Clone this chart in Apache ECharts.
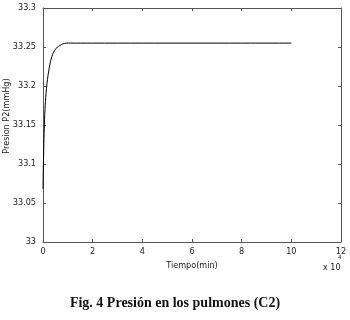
<!DOCTYPE html>
<html>
<head>
<meta charset="utf-8">
<script src="https://cdn.jsdelivr.net/npm/echarts@6/dist/echarts.min.js"></script>
<style>
  html, body { margin: 0; padding: 0; background: #fff; }
  #chart { width: 350px; height: 320px; }
</style>
</head>
<body>
<div id="chart"></div>
<script>
// tiempo en unidades de 10^4 min
const tiempo = [0, 0.01, 0.03, 0.05, 0.08, 0.12, 0.16, 0.2, 0.25, 0.3, 0.36, 0.42, 0.5, 0.58, 0.68, 0.8, 0.95, 1.1, 1.5, 2, 4, 6, 8, 10];
const presion = [33.068, 33.09, 33.12, 33.145, 33.17, 33.19, 33.203, 33.213, 33.223, 33.231, 33.238, 33.243, 33.247, 33.25, 33.252, 33.254, 33.255, 33.255, 33.255, 33.255, 33.255, 33.255, 33.255, 33.255];

~function () {
  let myChart = echarts.init(document.getElementById('chart'));
  let font = "'Liberation Sans Narrow', 'DejaVu Sans Condensed', 'Liberation Sans', sans-serif";
  let labelStyle = { color: '#222', fontSize: 9, fontFamily: font };
  let frame = { show: true, onZero: false, lineStyle: { color: '#555', width: 1 } };
  let ticks = { inside: true, length: 3, lineStyle: { color: '#555' } };
  let option = {
    backgroundColor: '#fff',
    animation: false,
    title: {
      text: 'Fig. 4 Presión en los pulmones (C2)',
      left: 'center',
      top: 291,
      textStyle: { fontFamily: 'Liberation Serif', fontWeight: 'bold', fontSize: 14, color: '#111' }
    },
    grid: { left: 43, right: 9, top: 8, bottom: 78, containLabel: false, outerBoundsMode: 'none' },
    xAxis: [
      {
        type: 'value', min: 0, max: 12, interval: 2,
        name: 'Tiempo(min)', nameLocation: 'middle', nameGap: 17,
        nameTextStyle: labelStyle,
        axisLine: frame, axisTick: ticks,
        axisLabel: Object.assign({ margin: 5 }, labelStyle), splitLine: { show: false }
      },
      {
        type: 'value', min: 0, max: 12, interval: 2, position: 'top',
        axisLine: frame, axisTick: ticks,
        axisLabel: { show: false }, splitLine: { show: false }
      }
    ],
    yAxis: [
      {
        type: 'value', min: 33, max: 33.3, interval: 0.05,
        axisLine: frame, axisTick: ticks,
        axisLabel: Object.assign({ margin: 7, formatter: v => String(+v.toFixed(2)) }, labelStyle),
        splitLine: { show: false }
      },
      {
        type: 'value', min: 33, max: 33.3, interval: 0.05, position: 'right',
        axisLine: frame, axisTick: ticks,
        axisLabel: { show: false }, splitLine: { show: false }
      }
    ],
    graphic: [
      {
        type: 'text', x: 7, y: 116, rotation: Math.PI / 2,
        style: { text: 'Presion P2(mmHg)', fontSize: 9, fill: '#222', fontFamily: font, align: 'center', verticalAlign: 'middle' }
      },
      {
        type: 'text', left: 323, top: 263,
        style: { text: 'x 10', fontSize: 9, fill: '#222', fontFamily: font }
      },
      {
        type: 'text', left: 338, top: 254,
        style: { text: '4', fontSize: 6, fill: '#222', fontFamily: font }
      }
    ],
    series: [
      {
        type: 'line',
        data: tiempo.map((t, i) => [t, presion[i]]),
        showSymbol: false,
        smooth: 0.3,
        lineStyle: { color: '#000', width: 1 }
      }
    ]
  };
  myChart.setOption(option);
}();
</script>
</body>
</html>
